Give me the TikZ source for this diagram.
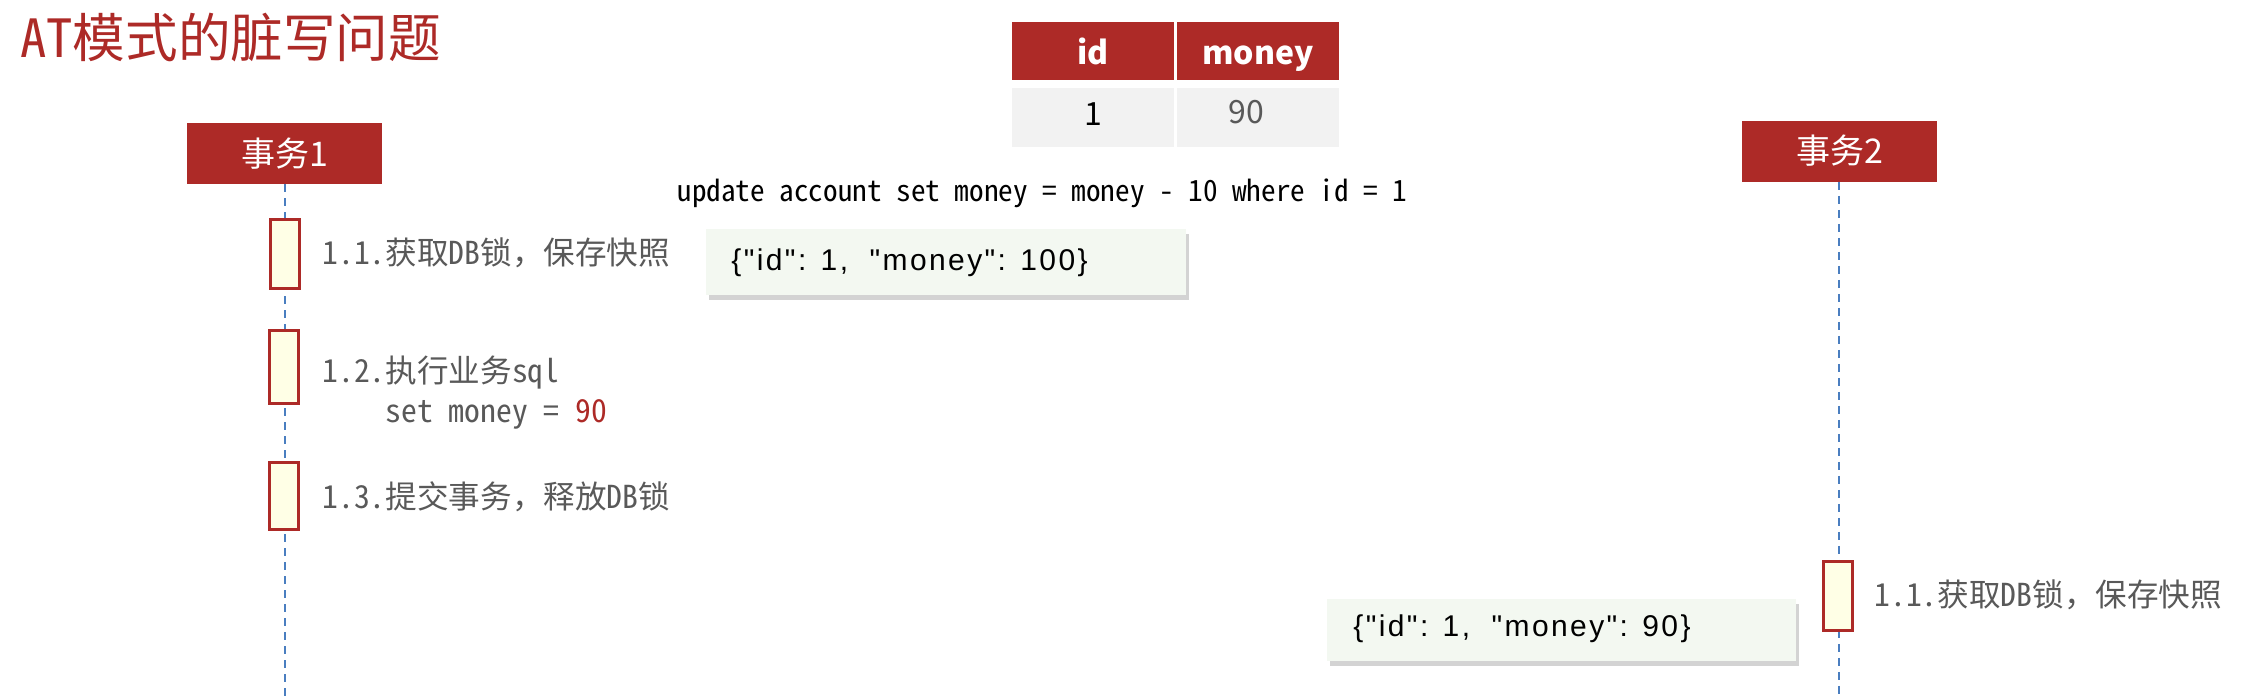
\documentclass[tikz,border=0pt]{standalone}
\usepackage{fontspec}
\newfontfamily\cjk{Noto Sans CJK SC}
\newfontfamily\cjkmono{Noto Sans Mono CJK SC}
\newfontfamily\jsonfont[LetterSpace=8]{Liberation Sans}
\usetikzlibrary{shadows}
\definecolor{hdred}{HTML}{AD2A27}
\definecolor{tdgray}{HTML}{F2F2F2}
\definecolor{actfill}{HTML}{FFFFE6}
\definecolor{lifeblue}{HTML}{4A7EC0}
\definecolor{labelgray}{HTML}{595959}
\definecolor{jsonfill}{HTML}{F3F8F1}
\tikzset{
  header/.style={fill=hdred, text=white, font=\cjk\fontsize{17pt}{20pt}\selectfont,
    minimum width=97.5pt, minimum height=30.5pt, inner sep=0pt},
  thcell/.style={fill=hdred, minimum width=81pt, minimum height=29pt, inner sep=0pt},
  thtext/.style={text=white, font=\cjk\bfseries\fontsize{16pt}{19pt}\selectfont, inner sep=0pt, anchor=base},
  tdcell/.style={fill=tdgray, minimum width=81pt, minimum height=29.5pt, inner sep=0pt},
  tdtext/.style={font=\cjk\fontsize{16pt}{19pt}\selectfont, inner sep=0pt},
  act/.style={draw=hdred, line width=1.5pt, fill=actfill, minimum width=14.5pt, inner sep=0pt},
  lifeline/.style={draw=lifeblue, line width=1pt, dash pattern=on 4pt off 3pt},
  steplabel/.style={font=\cjkmono\fontsize{15.8pt}{20pt}\selectfont, text=labelgray,
    anchor=west, inner sep=0pt, align=left},
  jsonbox/.style={fill=jsonfill, drop shadow={opacity=0.35, shadow xshift=1.5pt, shadow yshift=-2.5pt},
    inner sep=0pt},
  jsontext/.style={font=\jsonfont\fontsize{15pt}{18pt}\selectfont, anchor=west, inner sep=0pt},
}
\begin{document}
\begin{tikzpicture}[x=0.5pt,y=-0.5pt]
\useasboundingbox (0,0) rectangle (2256,697);

% title
\node[anchor=west, inner sep=0pt, text=hdred, font=\cjkmono\fontsize{26.3pt}{32pt}\selectfont] (title) at (20,38) {AT模式的脏写问题};

% table
\node[thcell] (thid) at (1093,51) {};
\node[thcell] (thmoney) at (1258,51) {};
\node[thtext] (tid) at (1093,64) {id};
\node[thtext] (tmoney) at (1258,64) {money};
\node[tdcell] (tdid) at (1093,117.5) {};
\node[tdcell] (tdmoney) at (1258,117.5) {};
\node[tdtext] (vid) at (1093,114.5) {1};
\node[tdtext, text=labelgray] (vmoney) at (1246,112) {90};

% sql
\node[inner sep=0pt, font=\cjkmono\fontsize{14.6pt}{17pt}\selectfont] (sql) at (1042.5,193) {update account set money = money - 10 where id = 1};

% headers
\node[header] (h1) at (284.5,153.5) {事务1};
\node[header] (h2) at (1839.5,151) {事务2};

% lifelines
\coordinate (l1end) at (284.5,697);
\coordinate (l2end) at (1839,697);
\draw[lifeline] (h1.south) -- (l1end);
\draw[lifeline] (h2.south -| l2end) -- (l2end);

% activations
\node[act, minimum height=34.5pt] (a11) at (284.5,253.5) {};
\node[act, minimum height=36.5pt] (a12) at (283.5,366.5) {};
\node[act, minimum height=33.5pt] (a13) at (283.5,495.5) {};
\node[act, minimum height=34.5pt] (b11) at (1837.5,595.5) {};

% step labels
\node[steplabel] (s11) at (322,253) {1.1.获取DB锁，保存快照};
\node[steplabel] (s12) at (322,393) {1.2.执行业务sql\\\hphantom{1.2.}set money = \textcolor{hdred}{90}};
\node[steplabel] (s13) at (322,497) {1.3.提交事务，释放DB锁};
\node[steplabel] (t11) at (1874,595) {1.1.获取DB锁，保存快照};

% json snapshots
\node[jsonbox, minimum width=240pt, minimum height=33pt] (j1) at (946,262) {};
\node[jsontext] (j1t) at (731,263) {\{"id": 1,\ \ "money": 100\}};
\node[jsonbox, minimum width=234.5pt, minimum height=31pt] (j2) at (1561.5,630) {};
\node[jsontext] (j2t) at (1353,629) {\{"id": 1,\ \ "money": 90\}};
\end{tikzpicture}
\end{document}
